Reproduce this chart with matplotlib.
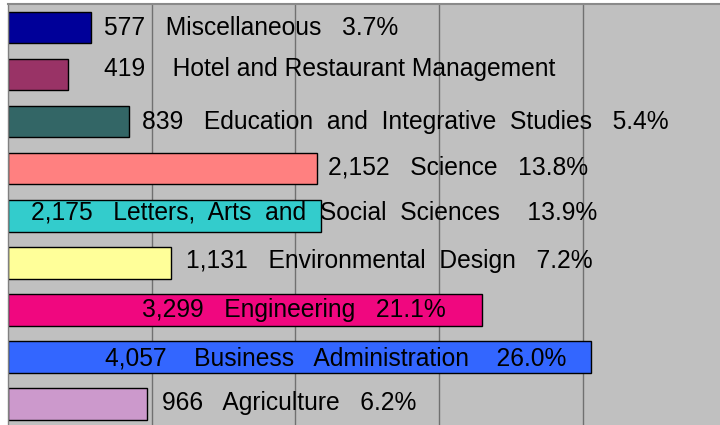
"""
Enrollment by college: horizontal bar chart with value / name / share labels.
"""

import matplotlib
matplotlib.use("Agg")
import matplotlib.pyplot as plt

# ===== Data =====
colleges = [
    "Miscellaneous",
    "Hotel and Restaurant Management",
    "Education and Integrative Studies",
    "Science",
    "Letters, Arts and Social Sciences",
    "Environmental Design",
    "Engineering",
    "Business Administration",
    "Agriculture",
]
students = [577, 419, 839, 2152, 2175, 1131, 3299, 4057, 966]
shares = ["3.7%", "", "5.4%", "13.8%", "13.9%", "7.2%", "21.1%", "26.0%", "6.2%"]
bar_colors = [
    "#000099", "#993366", "#336666", "#FF8080", "#33CCCC",
    "#FFFF99", "#F0077F", "#3366FF", "#CC99CC",
]

# where each label starts (data units) and its small vertical nudge (points)
label_start = [668, 668, 932, 2227, 160, 1239, 932, 675, 1072]
label_dy = [0, 4, 0, 1, 2, 1, 0, -1, 1]
# spaces after the number / between words / before the share
lead_gap = [3, 4, 3, 3, 3, 3, 3, 4, 3]
word_gap = [2, 1, 2, 2, 2, 2, 2, 3, 2]
tail_gap = [3, 0, 3, 3, 4, 3, 3, 4, 3]


def make_label(i):
    text = f"{students[i]:,}" + " " * lead_gap[i]
    text += (" " * word_gap[i]).join(colleges[i].split(" "))
    if shares[i]:
        text += " " * tail_gap[i] + shares[i]
    return text


def main() -> None:
    plt.rcParams["font.family"] = ["Liberation Sans", "DejaVu Sans"]

    fig = plt.figure(figsize=(7.2, 4.25), dpi=100)
    ax = fig.add_axes([8 / 720, -2.5 / 425, 718.5 / 720, 423.5 / 425])
    ax.set_facecolor("#C0C0C0")

    y = list(range(len(colleges)))
    ax.barh(y, students, height=0.67, color=bar_colors,
            edgecolor="black", linewidth=1.0, zorder=2)

    for i in y:
        ax.annotate(make_label(i), (label_start[i], i),
                    xytext=(0, label_dy[i]), textcoords="offset points",
                    ha="left", va="center", fontsize=17.7, color="black",
                    zorder=3)

    ax.set_xlim(0, 5000)
    ax.set_ylim(len(colleges) - 0.5, -0.5)
    ax.set_xticks([1000, 2000, 3000, 4000])
    ax.grid(axis="x", color="#707070", linewidth=1.0, zorder=1)
    ax.tick_params(left=False, bottom=False, labelleft=False, labelbottom=False)

    for side in ("right", "bottom"):
        ax.spines[side].set_visible(False)
    ax.spines["top"].set_color("#8A8A8A")
    ax.spines["top"].set_linewidth(1.5)
    ax.spines["left"].set_color("#808080")
    ax.spines["left"].set_linewidth(1.0)

    fig.savefig("out.png", dpi=100)


if __name__ == "__main__":
    main()
